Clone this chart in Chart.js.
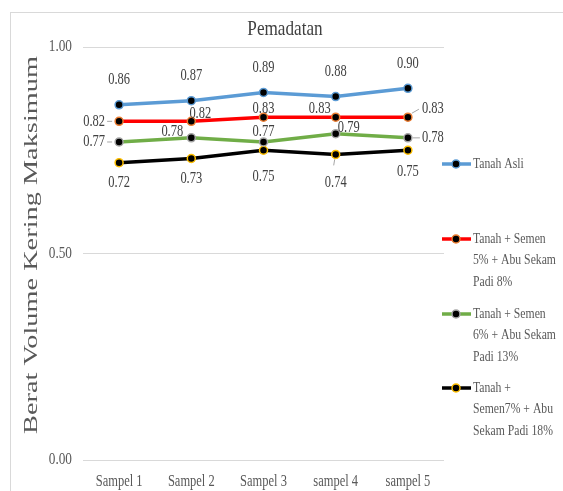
<!DOCTYPE html>
<html>
<head>
<meta charset="utf-8">
<script src="https://cdn.jsdelivr.net/npm/chart.js@4.4.1/dist/chart.umd.min.js"></script>
<style>
  html, body { margin: 0; padding: 0; background: #ffffff; }
  canvas { display: block; }
</style>
</head>
<body>
<canvas id="c" width="563" height="491"></canvas>
<script>
// Maximum dry density per sample
const categories = ['Sampel 1', 'Sampel 2', 'Sampel 3', 'sampel 4', 'sampel 5'];
const tanahAsli   = [0.86, 0.87, 0.89, 0.88, 0.90];
const campuran5   = [0.82, 0.82, 0.83, 0.83, 0.83];
const campuran6   = [0.77, 0.78, 0.77, 0.79, 0.78];
const campuran7   = [0.72, 0.73, 0.75, 0.74, 0.75];
const yTicks      = [0, 0.5, 1.0];

const seriesNames = [
  ['Tanah Asli'],
  ['Tanah + Semen', '5% + Abu Sekam', 'Padi 8%'],
  ['Tanah + Semen', '6% + Abu Sekam', 'Padi 13%'],
  ['Tanah +', 'Semen7% + Abu', 'Sekam Padi 18%']
];

// label placement relative to each point: [dx, dy, align]
const labelPlacement = [
  [[0,-25,'center'],[0,-25,'center'],[0,-25,'center'],[0,-25,'center'],[0,-25,'center']],
  [[-14,0,'right'],[9,-8,'center'],[0,-8,'center'],[-16,-8,'center'],[14,-8,'left']],
  [[-14,0,'right'],[-19,-6,'center'],[0,-10,'center'],[13,-6,'center'],[14,0,'left']],
  [[0,20,'center'],[0,20,'center'],[0,27,'center'],[0,28,'center'],[0,22,'center']]
];
// short leader strokes from point: [x1,y1,x2,y2] relative, or null
const leaders = [
  [null,null,null,null,null],
  [[-12,0,-7,0],null,null,null,[4,-4,11,-8]],
  [[-12,0,-7,0],null,null,null,[5,0,12,0]],
  [null,null,null,[-1,5,-2,11],null]
];
const legendRows = [164, 239, 314, 388];

const SX = 0.78; // horizontal condensing of the serif text
const FONT = '"Liberation Serif", "Times New Roman", serif';

function condensedText(ctx, s, x, y, size, color, align, baseline, sx) {
  ctx.save();
  ctx.translate(x, y);
  ctx.scale(sx || SX, 1);
  ctx.font = size + 'px ' + FONT;
  ctx.textAlign = align || 'center';
  ctx.textBaseline = baseline || 'middle';
  ctx.fillStyle = color;
  ctx.fillText(s, 0, 0);
  ctx.restore();
}

const lineColors   = ['#5B9BD5', '#FF0000', '#70AD47', '#000000'];
const markerBorder = ['#5B9BD5', '#ED7D31', '#A5A5A5', '#FFC000'];

const decorations = {
  id: 'decorations',
  beforeDraw(chart) {
    const ctx = chart.ctx;
    ctx.save();
    ctx.fillStyle = '#ffffff';
    ctx.fillRect(0, 0, chart.width, chart.height);
    ctx.strokeStyle = '#d9d9d9';
    ctx.lineWidth = 1;
    ctx.strokeRect(10.5, 12.5, 700, 700);
    ctx.restore();
  },
  afterDatasetsDraw(chart) {
    const ctx = chart.ctx;
    const xs = chart.scales.x, ys = chart.scales.y;

    // y tick labels
    yTicks.forEach(v => {
      condensedText(ctx, v.toFixed(2), 72, ys.getPixelForValue(v), 17, '#595959', 'right', 'middle');
    });
    // category labels
    categories.forEach((c, i) => {
      condensedText(ctx, c, xs.getPixelForValue(i), 482, 16, '#595959', 'center', 'middle');
    });

    // value labels and leaders
    chart.data.datasets.forEach((ds, di) => {
      const meta = chart.getDatasetMeta(di);
      meta.data.forEach((pt, i) => {
        const lp = labelPlacement[di][i];
        const ld = leaders[di][i];
        if (ld) {
          ctx.save();
          ctx.strokeStyle = '#a6a6a6';
          ctx.lineWidth = 1;
          ctx.beginPath();
          ctx.moveTo(pt.x + ld[0], pt.y + ld[1]);
          ctx.lineTo(pt.x + ld[2], pt.y + ld[3]);
          ctx.stroke();
          ctx.restore();
        }
        condensedText(ctx, ds.data[i].toFixed(2), pt.x + lp[0], pt.y + lp[1], 16, '#404040', lp[2], 'middle');
      });
    });

    // legend
    chart.data.datasets.forEach((ds, di) => {
      const y = legendRows[di];
      ctx.save();
      ctx.strokeStyle = lineColors[di];
      ctx.lineWidth = 3.5;
      ctx.beginPath();
      ctx.moveTo(442, y);
      ctx.lineTo(471, y);
      ctx.stroke();
      ctx.beginPath();
      ctx.arc(456, y, 4, 0, Math.PI * 2);
      ctx.fillStyle = '#000000';
      ctx.fill();
      ctx.lineWidth = 1.5;
      ctx.strokeStyle = markerBorder[di];
      ctx.stroke();
      ctx.restore();
      seriesNames[di].forEach((line, li) => {
        condensedText(ctx, line, 473, y + li * 21.5, 15, '#595959', 'left', 'middle');
      });
    });

    // chart title
    condensedText(ctx, 'Pemadatan', 285, 29, 22, '#404040', 'center', 'middle');

    // y axis title, rotated and stretched along its length
    ctx.save();
    const title = 'Berat Volume Kering Maksimum';
    ctx.font = '19.5px ' + FONT;
    const w = ctx.measureText(title).width;
    const stretch = 378 / w;
    ctx.translate(32, 245);
    ctx.rotate(-Math.PI / 2);
    ctx.scale(stretch, 1);
    ctx.textAlign = 'center';
    ctx.textBaseline = 'middle';
    ctx.fillStyle = '#595959';
    ctx.fillText(title, 0, 0);
    ctx.restore();
  }
};

function ds(data, i) {
  return {
    data: data,
    borderColor: lineColors[i],
    backgroundColor: '#000000',
    borderWidth: 3.5,
    pointRadius: 4,
    pointBorderWidth: 1.5,
    pointBackgroundColor: '#000000',
    pointBorderColor: markerBorder[i],
    tension: 0,
    fill: false,
    clip: false
  };
}

new Chart(document.getElementById('c'), {
  type: 'line',
  data: {
    labels: categories,
    datasets: [ds(tanahAsli, 0), ds(campuran5, 1), ds(campuran6, 2), ds(campuran7, 3)]
  },
  options: {
    responsive: false,
    animation: false,
    layout: { padding: { top: 47, right: 119, left: 0, bottom: 0 } },
    plugins: { legend: { display: false }, tooltip: { enabled: false }, title: { display: false } },
    scales: {
      x: {
        offset: true,
        grid: { display: false },
        border: { display: false },
        ticks: { display: false },
        afterFit(s) { s.height = 31; }
      },
      y: {
        min: 0, max: 1,
        ticks: { display: false, stepSize: 0.5 },
        grid: { color: '#d9d9d9', lineWidth: 1, drawTicks: false },
        border: { display: false },
        afterFit(s) { s.width = 83; }
      }
    }
  },
  plugins: [decorations]
});
</script>
</body>
</html>
